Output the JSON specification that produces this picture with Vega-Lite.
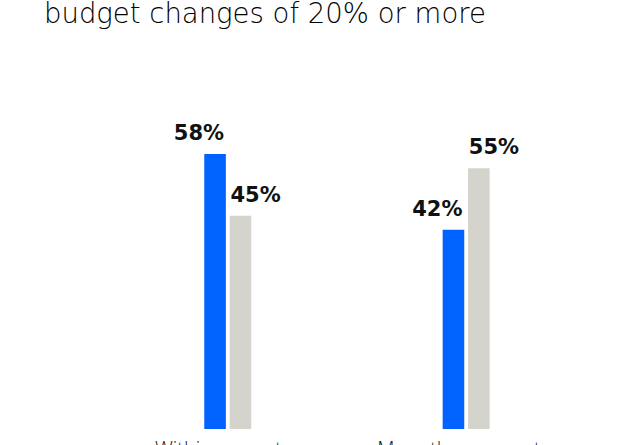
{
  "$schema": "https://vega.github.io/schema/vega-lite/v6.json",
  "autosize": {"type": "none"},
  "width": 640,
  "height": 394,
  "padding": {"left": 0, "top": 35, "right": 0, "bottom": 16},
  "background": "white",
  "title": {
    "text": "budget changes of 20% or more",
    "anchor": "start",
    "frame": "group",
    "dx": 44,
    "offset": -15,
    "baseline": "alphabetic",
    "font": "DejaVu Sans",
    "fontSize": 27.5,
    "fontWeight": 200,
    "color": "#000000"
  },
  "config": {
    "view": {"stroke": null},
    "font": "Open Sans"
  },
  "data": {
    "values": [
      {"period": "Within a quarter", "group": "Leaders", "value": 58, "label": "58%"},
      {"period": "Within a quarter", "group": "Others", "value": 45, "label": "45%"},
      {"period": "More than a quarter", "group": "Leaders", "value": 42, "label": "42%"},
      {"period": "More than a quarter", "group": "Others", "value": 55, "label": "55%"}
    ]
  },
  "encoding": {
    "x": {
      "field": "period",
      "type": "nominal",
      "sort": ["Within a quarter", "More than a quarter"],
      "scale": {"paddingInner": 0.803, "paddingOuter": 0.7438, "align": 0.576},
      "axis": {
        "title": null,
        "domain": false,
        "ticks": false,
        "labelAngle": 0,
        "labelFont": "Open Sans",
        "labelFontSize": 20,
        "labelFontWeight": 300,
        "labelColor": "#1a1a1a",
        "labelPadding": 10,
        "labelBaseline": "top"
      }
    },
    "xOffset": {
      "field": "group",
      "type": "nominal",
      "sort": ["Leaders", "Others"],
      "scale": {"paddingInner": 0.15, "paddingOuter": 0}
    },
    "y": {
      "field": "value",
      "type": "quantitative",
      "scale": {"domain": [0, 83.1], "nice": false, "zero": true},
      "axis": null
    }
  },
  "layer": [
    {
      "mark": {"type": "bar"},
      "encoding": {
        "color": {
          "field": "group",
          "type": "nominal",
          "scale": {"domain": ["Leaders", "Others"], "range": ["#0062ff", "#d5d4cc"]},
          "legend": null
        }
      }
    },
    {
      "transform": [{"filter": "datum.group === 'Leaders'"}],
      "mark": {"type": "text", "align": "right", "baseline": "alphabetic", "dx": 9, "dy": -14, "fontSize": 21, "fontWeight": "bold", "font": "DejaVu Sans", "color": "#111111"},
      "encoding": {"text": {"field": "label", "type": "nominal"}}
    },
    {
      "transform": [{"filter": "datum.group === 'Others'"}],
      "mark": {"type": "text", "align": "left", "baseline": "alphabetic", "dx": -10, "dy": -14, "fontSize": 21, "fontWeight": "bold", "font": "DejaVu Sans", "color": "#111111"},
      "encoding": {"text": {"field": "label", "type": "nominal"}}
    }
  ]
}
